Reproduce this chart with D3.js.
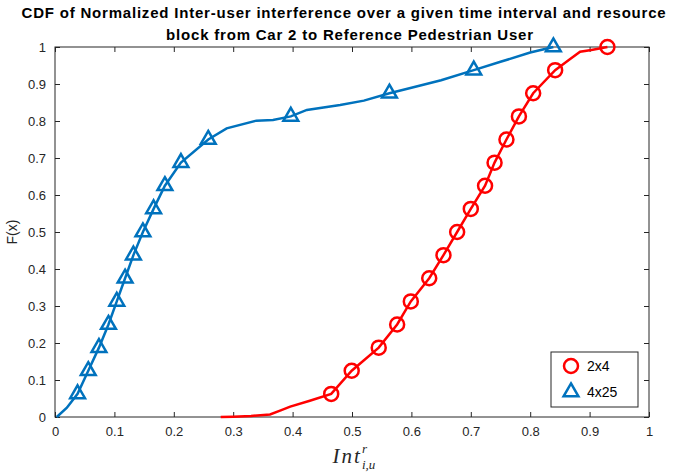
<!DOCTYPE html>
<html><head><meta charset="utf-8">
<script src="https://cdn.jsdelivr.net/npm/d3@7"></script>
<style>body{margin:0;background:#fff}svg{display:block}</style>
</head><body><svg id="c" width="676" height="474"></svg>
<script>
const titleLines = ["CDF of Normalized Inter-user interference over a given time interval and resource", "block from Car 2 to Reference Pedestrian User"];
const xTicks = [0,0.1,0.2,0.3,0.4,0.5,0.6,0.7,0.8,0.9,1];
const yTicks = [0,0.1,0.2,0.3,0.4,0.5,0.6,0.7,0.8,0.9,1];
const seriesNames = ["2x4","4x25"];
const cdfLevels = [0.0625,0.125,0.1875,0.25,0.3125,0.375,0.4375,0.5,0.5625,0.625,0.6875,0.75,0.8125,0.875,0.9375,1.0];
const redMarkerX = [0.465,0.4995,0.545,0.576,0.599,0.630,0.654,0.677,0.700,0.724,0.740,0.760,0.781,0.805,0.842,0.930];
const blueMarkerX = [0.038,0.056,0.074,0.090,0.104,0.118,0.132,0.148,0.166,0.185,0.212,0.258,0.397,0.563,0.705,0.839];
const redCurve = [[0.279,0],[0.30,0.001],[0.33,0.003],[0.362,0.007],[0.38,0.018],[0.396,0.028],[0.429,0.044],[0.465,0.0625],[0.4995,0.125],[0.545,0.1875],[0.576,0.25],[0.599,0.3125],[0.630,0.375],[0.654,0.4375],[0.677,0.5],[0.700,0.5625],[0.724,0.625],[0.740,0.6875],[0.760,0.75],[0.781,0.8125],[0.805,0.875],[0.842,0.9375],[0.865,0.965],[0.884,0.987],[0.903,0.992],[0.930,1.0]];
const blueCurve = [[0.003,0],[0.02,0.025],[0.038,0.0625],[0.056,0.125],[0.074,0.1875],[0.090,0.25],[0.104,0.3125],[0.118,0.375],[0.132,0.4375],[0.148,0.5],[0.166,0.5625],[0.185,0.625],[0.212,0.6875],[0.258,0.75],[0.289,0.78],[0.339,0.801],[0.367,0.803],[0.397,0.8125],[0.424,0.830],[0.480,0.843],[0.52,0.855],[0.563,0.875],[0.60,0.89],[0.65,0.91],[0.705,0.9375],[0.75,0.96],[0.80,0.985],[0.839,1.0]];

const svg = d3.select("#c");
const L=55,R=649,T=47,B=417;
const x = d3.scaleLinear().domain([0,1]).range([L,R]);
const y = d3.scaleLinear().domain([0,1]).range([B,T]);
const axCol="#262626", font="'Liberation Sans', Arial, sans-serif";
const red="#ff0000", blue="#0072bd";

function styleAxis(g, labels){
  g.select(".domain").remove();
  g.selectAll("line").attr("stroke",axCol);
  g.selectAll("text").attr("fill",axCol).style("font-family",font).style("font-size","13px");
  if(!labels) g.selectAll("text").remove();
}
const fmt = d=> d===0?"0":d===1?"1":String(d);
svg.append("g").attr("transform",`translate(0,${B})`).call(d3.axisBottom(x).tickValues(xTicks).tickFormat(fmt).tickSizeInner(-5).tickSizeOuter(0).tickPadding(10)).call(g=>styleAxis(g,true));
svg.append("g").attr("transform",`translate(0,${T})`).call(d3.axisTop(x).tickValues(xTicks).tickSizeInner(-5).tickSizeOuter(0)).call(g=>styleAxis(g,false));
svg.append("g").attr("transform",`translate(${L},0)`).call(d3.axisLeft(y).tickValues(yTicks).tickFormat(fmt).tickSizeInner(-5).tickSizeOuter(0).tickPadding(9)).call(g=>styleAxis(g,true));
svg.append("g").attr("transform",`translate(${R},0)`).call(d3.axisRight(y).tickValues(yTicks).tickSizeInner(-5).tickSizeOuter(0)).call(g=>styleAxis(g,false));
svg.append("rect").attr("x",L).attr("y",T).attr("width",R-L).attr("height",B-T).attr("fill","none").attr("stroke",axCol).attr("stroke-width",1);

const line = d3.line().x(d=>x(d[0])).y(d=>y(d[1]));
svg.append("path").datum(redCurve).attr("d",line).attr("fill","none").attr("stroke",red).attr("stroke-width",2.5);
svg.append("path").datum(blueCurve).attr("d",line).attr("fill","none").attr("stroke",blue).attr("stroke-width",2.5);

const tri = d3.symbol().type(d3.symbolTriangle).size(95);
svg.append("g").selectAll("circle").data(redMarkerX).join("circle")
  .attr("cx",d=>x(d)).attr("cy",(d,i)=>y(cdfLevels[i])).attr("r",7)
  .attr("fill","none").attr("stroke",red).attr("stroke-width",2.5);
svg.append("g").selectAll("path").data(blueMarkerX).join("path")
  .attr("d",tri).attr("transform",(d,i)=>`translate(${x(d)},${y(cdfLevels[i])})`)
  .attr("fill","none").attr("stroke",blue).attr("stroke-width",2.5);

svg.append("g").selectAll("text").data(titleLines).join("text")
  .attr("x",(d,i)=>i===0?344:350).attr("y",(d,i)=>17.5+i*22).attr("text-anchor","middle")
  .style("font-family",font).style("font-weight","bold").style("font-size","15px").style("letter-spacing","0.8px")
  .attr("fill","#000").text(d=>d);

svg.append("text").attr("transform","translate(17,232) rotate(-90)").attr("text-anchor","middle")
  .style("font-family",font).style("font-size","14px").attr("fill",axCol).text("F(x)");

const xl = svg.append("text").attr("x",354).attr("y",463).attr("text-anchor","middle")
  .style("font-family","'Liberation Serif','Times New Roman',serif").style("font-style","italic").style("font-size","21px").attr("fill",axCol);
xl.append("tspan").style("letter-spacing","2px").text("Int");
xl.append("tspan").attr("dy",-10).style("font-size","13px").text("r");
xl.append("tspan").attr("dx",-5).attr("dy",16).style("font-size","13px").text("i,u");

const lg = svg.append("g");
lg.append("rect").attr("x",551).attr("y",352).attr("width",87).attr("height",55).attr("fill","#fff").attr("stroke",axCol).attr("stroke-width",1);
lg.append("circle").attr("cx",571).attr("cy",366).attr("r",7).attr("fill","none").attr("stroke",red).attr("stroke-width",2.5);
lg.append("path").attr("d",tri).attr("transform","translate(571,392)").attr("fill","none").attr("stroke",blue).attr("stroke-width",2.5);
lg.selectAll("text.l").data(seriesNames).join("text").attr("class","l")
  .attr("x",587).attr("y",(d,i)=>371+i*26).style("font-family",font).style("font-size","14px").attr("fill","#000").text(d=>d);
</script></body></html>
